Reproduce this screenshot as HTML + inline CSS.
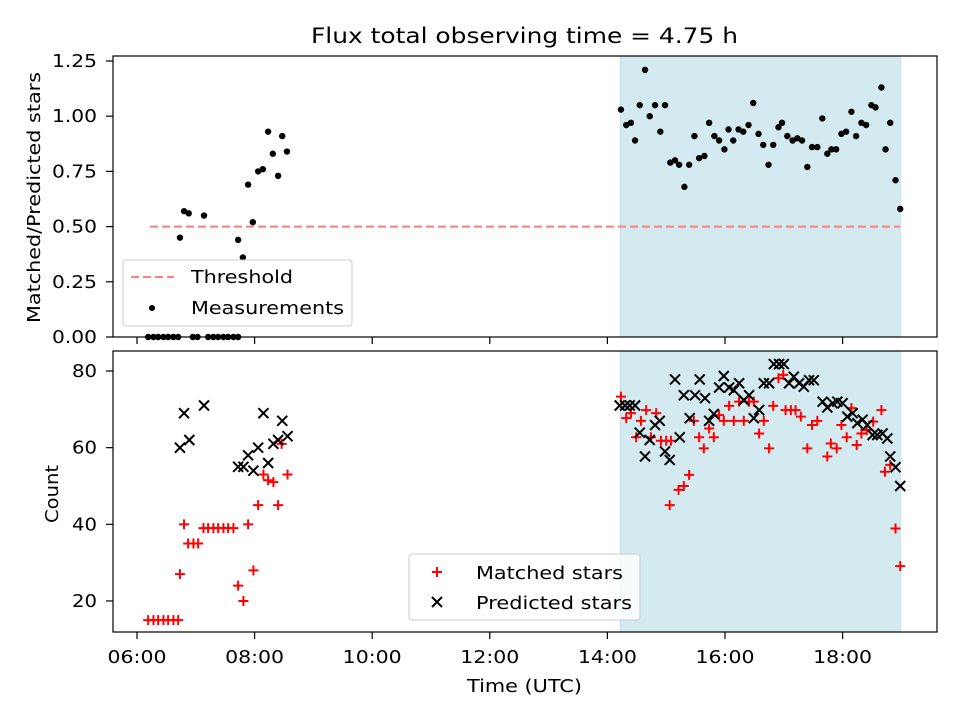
<!DOCTYPE html>
<html><head><meta charset="utf-8">
<style>
body{margin:0;background:#fff;}
svg{font-family:"DejaVu Sans","Liberation Sans",sans-serif;}
</style></head>
<body>
<svg id="chart" width="960" height="720" viewBox="0 0 960 720"></svg>
<script>
const xTickLabels=["06:00","08:00","10:00","12:00","14:00","16:00","18:00"];
const xTickHours=[6,8,10,12,14,16,18];
const topTicks=[0,0.25,0.5,0.75,1.0,1.25];
const botTicks=[20,40,60,80];
const shadeRange=[14.22,18.98];
const threshold=0.5;
const measTimes=[6.19,6.28,6.36,6.45,6.53,6.62,6.70,6.95,7.03,7.21,7.30,7.38,7.47,7.55,7.64,7.72,
6.73,6.80,6.88,7.14,7.72,7.80,7.89,7.97,8.06,8.14,8.23,8.31,8.40,8.47,8.55,
14.23,14.32,14.40,14.47,14.55,14.64,14.72,14.81,14.90,14.98,15.07,15.15,15.22,15.31,15.39,15.48,15.56,15.65,15.73,15.82,15.90,15.99,16.06,16.14,16.23,16.31,16.40,16.48,16.57,16.65,16.74,16.82,16.91,16.97,17.06,17.15,17.23,17.31,17.40,17.48,17.57,17.655,17.74,17.81,17.89,17.98,18.06,18.15,18.23,18.32,18.40,18.49,18.56,18.66,18.73,18.81,18.90,18.98];
const measValues=[0,0,0,0,0,0,0,0,0,0,0,0,0,0,0,0,
0.45,0.57,0.56,0.55,0.44,0.36,0.69,0.52,0.75,0.76,0.93,0.83,0.73,0.91,0.84,
1.03,0.96,0.97,0.89,1.05,1.21,1.00,1.05,0.93,1.05,0.79,0.80,0.78,0.68,0.78,0.91,0.81,0.82,0.97,0.91,0.89,0.85,0.94,0.89,0.94,0.93,0.96,1.06,0.92,0.87,0.78,0.87,0.95,0.97,0.91,0.89,0.90,0.89,0.77,0.86,0.86,0.99,0.83,0.85,0.85,0.92,0.93,1.02,0.91,0.97,0.96,1.05,1.04,1.13,0.85,0.97,0.71,0.58];
const matchedTimes=[6.19,6.28,6.36,6.45,6.53,6.62,6.70,6.73,6.80,6.87,6.96,7.04,7.13,7.21,7.30,7.38,7.47,7.55,7.64,7.72,7.81,7.89,7.98,8.06,8.15,8.23,8.32,8.40,8.46,8.56,
14.23,14.32,14.40,14.49,14.57,14.66,14.74,14.83,14.91,15.00,15.08,15.06,15.21,15.30,15.39,15.47,15.56,15.64,15.73,15.81,15.90,15.98,16.07,16.15,16.24,16.32,16.41,16.49,16.58,16.66,16.75,16.82,16.91,16.99,17.03,17.12,17.20,17.29,17.40,17.48,17.57,17.74,17.80,17.90,17.98,18.07,18.15,18.24,18.32,18.41,18.52,18.66,18.72,18.81,18.90,18.98];
const matchedValues=[15,15,15,15,15,15,15,27,40,35,35,35,39,39,39,39,39,39,39,24,20,40,28,45,53,51.5,51,45,61,53,
73.3,67.7,69,62.7,67,69.8,62.7,69,61.8,61.8,61.8,45,49,50,52.9,67,62.7,59.8,65,62.7,68.5,67,70.9,67,72,67,72,72,63.7,67,59.8,70.9,78.1,79,69.8,69.8,69.8,68.1,59.8,65.9,67,57.7,61.1,59.8,65.9,62.7,70.3,60.7,63.7,64.6,66.8,69.8,53.7,55.5,38.9,29.1];
const predTimes=[6.73,6.80,6.89,7.14,7.72,7.81,7.89,7.98,8.06,8.15,8.23,8.32,8.40,8.47,8.56,
14.21,14.30,14.38,14.47,14.55,14.64,14.72,14.81,14.89,14.98,15.06,15.15,15.23,15.30,15.40,15.49,15.57,15.66,15.73,15.81,15.90,15.98,16.07,16.15,16.24,16.32,16.41,16.49,16.58,16.66,16.75,16.83,16.92,17.00,17.09,17.17,17.26,17.34,17.43,17.51,17.66,17.74,17.83,17.91,18.00,18.08,18.17,18.25,18.34,18.42,18.51,18.59,18.68,18.76,18.81,18.90,18.98];
const predValues=[60,69,62,71,55,55,58,54,60,69,56,61,62,67,63,
71,71,71,71,63.9,57.7,62,65.9,67,59,56.8,77.8,62.7,73.7,67.7,73.7,77.8,72.9,67,68.8,75.7,78.7,75.7,75,76.8,72.4,73.7,67.7,69.8,76.8,76.8,81.8,81.8,81.8,76.8,78.5,76.8,75.9,77.6,77.6,72,70.5,71.6,72,71.6,68.1,69,66.4,67.3,65.9,63.3,63.3,63.7,62.4,57.7,54.9,50];

const NS="http://www.w3.org/2000/svg";
const svg=document.getElementById('chart');
const L=113,R=937,T1=56,B1=337,T2=351,B2=632;
const FS=17.5;
const xs=h=>137+(h-6)*58.8;
const yTop=v=>337-v*220.8;
const yBot=v=>371-(v-80)*3.833;
function mk(tag,attrs,parent){const e=document.createElementNS(NS,tag);for(const k in attrs)e.setAttribute(k,attrs[k]);(parent||svg).appendChild(e);return e;}
function txt(s,attrs,parent){const e=mk('text',attrs,parent);e.textContent=s;return e;}

[[T1,B1],[T2,B2]].forEach((p,i)=>{
 const r=mk('rect',{x:xs(shadeRange[0]),y:p[0],width:xs(shadeRange[1])-xs(shadeRange[0]),height:p[1]-p[0],fill:'#d4eaf1',stroke:'#bcdde8','stroke-width':1});
 
 
});
const th=mk('line',{x1:150,x2:900,y1:yTop(threshold),y2:yTop(threshold),stroke:'#ff7f7f','stroke-width':2,'stroke-dasharray':'8 4'});



const gm=mk('g',{});


measTimes.forEach((t,i)=>{const c=mk('circle',{cx:xs(t),cy:yTop(measValues[i]),r:3.2,fill:'#000'},gm);
 
 });

const gp=mk('g',{stroke:'#ff0000','stroke-width':2});


matchedTimes.forEach((t,i)=>{const x=xs(t),y=yBot(matchedValues[i]);
 const p=mk('path',{d:`M${x-5} ${y}H${x+5}M${x} ${y-5}V${y+5}`},gp);
 
 });
const gx=mk('g',{stroke:'#000','stroke-width':2});


predTimes.forEach((t,i)=>{const x=xs(t),y=yBot(predValues[i]);
 const p=mk('path',{d:`M${x-5} ${y-5}L${x+5} ${y+5}M${x-5} ${y+5}L${x+5} ${y-5}`},gx);
 
 });

[[T1,B1,'top-axes-frame'],[T2,B2,'bottom-axes-frame']].forEach(p=>{
 const r=mk('rect',{x:L,y:p[0],width:R-L,height:p[1]-p[0],fill:'none',stroke:'#000','stroke-width':1.2});
 
 
});
xTickHours.forEach((h,i)=>{const x=xs(h);
 mk('line',{x1:x,x2:x,y1:B1,y2:B1+7,stroke:'#000','stroke-width':1.2});
 mk('line',{x1:x,x2:x,y1:B2,y2:B2+7,stroke:'#000','stroke-width':1.2});
 const t=txt(xTickLabels[i],{x:x,y:B2+31,'font-size':FS,'text-anchor':'middle',textLength:59,lengthAdjust:'spacingAndGlyphs'});
 
 
});
topTicks.forEach(v=>{const y=yTop(v);mk('line',{x1:L-7,x2:L,y1:y,y2:y,stroke:'#000','stroke-width':1.2});
 const t=txt(v.toFixed(2),{x:L-16,y:y+6,'font-size':FS,'text-anchor':'end',textLength:45,lengthAdjust:'spacingAndGlyphs'});
 
 });
botTicks.forEach(v=>{const y=yBot(v);mk('line',{x1:L-7,x2:L,y1:y,y2:y,stroke:'#000','stroke-width':1.2});
 const t=txt(String(v),{x:L-16,y:y+6,'font-size':FS,'text-anchor':'end',textLength:25,lengthAdjust:'spacingAndGlyphs'});
 
 });
</script>
<svg width="960" height="720" style="position:absolute;left:0;top:0">
 <text x="524.5" y="43" font-size="21" text-anchor="middle" textLength="427" lengthAdjust="spacingAndGlyphs">Flux total observing time = 4.75 h</text>
 <text x="0" y="0" font-size="17.5" text-anchor="middle" textLength="251" lengthAdjust="spacingAndGlyphs" transform="translate(40,197.5) rotate(-90)">Matched/Predicted stars</text>
 <text x="0" y="0" font-size="17.5" text-anchor="middle" textLength="58" lengthAdjust="spacingAndGlyphs" transform="translate(58,494) rotate(-90)">Count</text>
 <text x="524.5" y="692" font-size="17.5" text-anchor="middle" textLength="115" lengthAdjust="spacingAndGlyphs">Time (UTC)</text>
 <g font-size="17.5">
  <rect x="123" y="260" width="229" height="66" rx="3" fill="#fff" fill-opacity="0.8" stroke="#ccc"/>
  <line x1="131" x2="174" y1="277" y2="277" stroke="#ff7f7f" stroke-width="2" stroke-dasharray="8 4"/>
  <text x="191" y="283" textLength="102" lengthAdjust="spacingAndGlyphs">Threshold</text>
  <circle cx="152" cy="308" r="3" fill="#000"/>
  <text x="191" y="314" textLength="153" lengthAdjust="spacingAndGlyphs">Measurements</text>
 </g>
 <g font-size="17.5">
  <rect x="409" y="554" width="231" height="66" rx="3" fill="#fff" fill-opacity="0.8" stroke="#ccc"/>
  <path d="M432 572H442M437 567V577" stroke="#f00" stroke-width="2"/>
  <text x="476" y="579" textLength="147" lengthAdjust="spacingAndGlyphs">Matched stars</text>
  <path d="M432 597L442 607M432 607L442 597" stroke="#000" stroke-width="2"/>
  <text x="476" y="609" textLength="156" lengthAdjust="spacingAndGlyphs">Predicted stars</text>
 </g>
</svg>
</body></html>
